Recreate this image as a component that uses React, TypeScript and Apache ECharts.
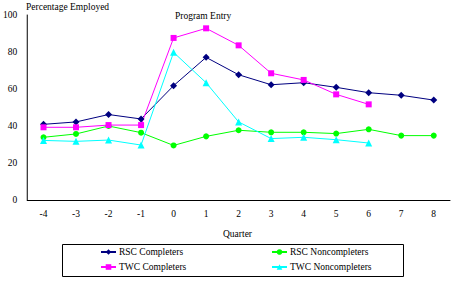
import React, { useEffect, useRef } from "react";
import * as echarts from "echarts";

const quarters = ["-4", "-3", "-2", "-1", "0", "1", "2", "3", "4", "5", "6", "7", "8"];
const rscCompleters = [40.9, 42.2, 46.2, 43.8, 61.8, 77.1, 67.7, 62.3, 63.4, 60.9, 58.0, 56.6, 54.0];
const twcCompleters = [39.3, 39.3, 40.5, 40.5, 87.6, 92.8, 83.6, 68.5, 64.9, 57.1, 51.7, null, null];
const rscNoncompleters = [33.9, 35.7, 40.0, 36.4, 29.5, 34.4, 37.7, 36.6, 36.6, 35.9, 38.2, 34.8, 34.8];
const twcNoncompleters = [32.2, 31.7, 32.4, 29.7, 79.8, 63.4, 42.2, 33.2, 33.9, 32.6, 30.8, null, null];
const yTicks = { min: 0, max: 100, interval: 20 };

const FONT = "Liberation Serif, Times New Roman, serif";
const FS = 9.5;

export default function App() {
  const ref = useRef<HTMLDivElement>(null);
  useEffect(() => {
    document.body.style.margin = "0";
    if (!ref.current) return;
    const chart = echarts.init(ref.current, null, { renderer: "svg" });
    const mk = (name: string, data: any[], color: string, symbol: string, size: number) => ({
      name,
      type: "line",
      data,
      symbol,
      symbolSize: size,
      showSymbol: true,
      itemStyle: { color },
      lineStyle: { color, width: 1 },
      connectNulls: false,
    });
    const legendBase = {
      orient: "vertical",
      top: 247,
      height: 40,
      padding: 0,
      itemWidth: 15,
      itemHeight: 7,
      itemGap: 5,
      textStyle: { color: "#000", fontSize: FS, fontFamily: FONT, padding: [0, 0, 0, -2] },
    };
    chart.setOption({
      animation: false,
      textStyle: { fontFamily: FONT },
      grid: { left: 25.5, right: 5, top: 15, bottom: 81, containLabel: false },
      xAxis: {
        type: "category",
        data: quarters,
        boundaryGap: true,
        axisLine: { lineStyle: { color: "#000", width: 1 } },
        axisTick: { show: false },
        axisLabel: { color: "#000", fontSize: FS, fontFamily: FONT, margin: 9 },
      },
      yAxis: {
        type: "value",
        min: yTicks.min,
        max: yTicks.max,
        interval: yTicks.interval,
        splitLine: { show: false },
        axisLine: { show: true, lineStyle: { color: "#000", width: 1 } },
        axisTick: { show: false },
        axisLabel: { color: "#000", fontSize: FS, fontFamily: FONT, margin: 10 },
      },
      legend: [
        { ...legendBase, data: ["RSC Completers", "TWC Completers"], left: 100 },
        { ...legendBase, data: ["RSC Noncompleters", "TWC Noncompleters"], left: 271 },
      ],
      graphic: [
        {
          type: "rect",
          shape: { x: 62.5, y: 244.5, width: 341, height: 32 },
          style: { fill: "none", stroke: "#000", lineWidth: 1 },
        },
        {
          type: "text",
          left: 26,
          top: 2,
          style: { text: "Percentage Employed", fontSize: FS, fontFamily: FONT, fill: "#000" },
        },
        {
          type: "text",
          left: 175,
          top: 11,
          style: { text: "Program Entry", fontSize: FS, fontFamily: FONT, fill: "#000" },
        },
        {
          type: "text",
          left: 223,
          top: 229,
          style: { text: "Quarter", fontSize: FS, fontFamily: FONT, fill: "#000" },
        },
      ],
      series: [
        mk("RSC Completers", rscCompleters, "#000080", "diamond", 7),
        mk("RSC Noncompleters", rscNoncompleters, "#00FF00", "circle", 6),
        mk("TWC Completers", twcCompleters, "#FF00FF", "rect", 6),
        mk("TWC Noncompleters", twcNoncompleters, "#00FFFF", "triangle", 7),
      ],
    });
    return () => chart.dispose();
  }, []);
  return <div ref={ref} style={{ width: 455, height: 281 }} />;
}
